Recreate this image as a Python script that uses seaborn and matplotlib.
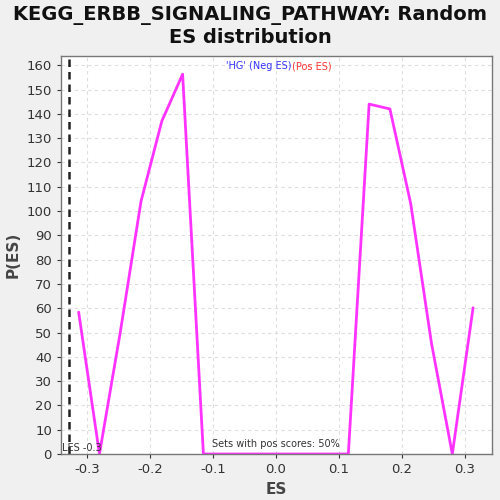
import numpy as np
import pandas as pd
import matplotlib
matplotlib.use("Agg")
import matplotlib.pyplot as plt
import seaborn as sns

# ES bins and density values
es_values = [-0.313, -0.280, -0.247, -0.214, -0.181, -0.148, -0.115, -0.082,
             -0.049, -0.016, 0.016, 0.049, 0.082, 0.115, 0.148, 0.181,
             0.214, 0.247, 0.280, 0.313]
p_es = [58.4, 0.0, 50.0, 104.0, 137.0, 156.3, 0.0, 0.0,
        0.0, 0.0, 0.0, 0.0, 0.0, 0.0, 144.0, 142.0,
        103.0, 45.5, 0.0, 60.2]
les_value = -0.329
y_ticks = list(range(0, 161, 10))
x_ticks = [-0.3, -0.2, -0.1, 0.0, 0.1, 0.2, 0.3]

df = pd.DataFrame({"ES": es_values, "P(ES)": p_es})

sns.set_style("whitegrid")
plt.rcParams['font.family'] = ['DejaVu Sans']

fig = plt.figure(figsize=(5, 5), dpi=100, facecolor="#f0f0f0")
ax = fig.add_axes([0.122, 0.092, 0.862, 0.796])
ax.set_facecolor("white")

sns.lineplot(data=df, x="ES", y="P(ES)", ax=ax, color="#ff33ff", linewidth=2)
ax.axvline(les_value, color="#222222", linestyle=(0, (3, 2)), linewidth=1.8)

ax.set_xlim(-0.341, 0.343)
ax.set_ylim(0, 163.8)
ax.set_xticks(x_ticks)
ax.set_xticklabels([f"{t:.1f}" for t in x_ticks])
ax.set_yticks(y_ticks)
ax.tick_params(axis="both", labelsize=9.5, colors="#333333", length=3, direction="out")
ax.tick_params(axis="both", bottom=True, left=True)
ax.grid(True, color="#dddddd", linestyle=(0, (3, 3)), linewidth=0.8)
for s in ax.spines.values():
    s.set_color("#777777")
    s.set_linewidth(1)

ax.set_xlabel("ES", fontsize=11, fontweight="bold", color="#444444")
ax.set_ylabel("P(ES)", fontsize=11, fontweight="bold", color="#444444")
fig.suptitle("KEGG_ERBB_SIGNALING_PATHWAY: Random\nES distribution",
             fontsize=14, fontweight="bold", y=0.99, color="#111111")

ax.text(0.0, 2, "Sets with pos scores: 50%", ha="center", va="bottom",
        fontsize=7, color="#333333")
ax.text(-0.339, 0.5, "LES -0.3", ha="left", va="bottom", fontsize=7, color="#333333")
ax.text(-0.079, 159.5, "'HG' (Neg ES)", ha="left", va="center", fontsize=7, color="#3333ff")
ax.text(0.026, 159.5, "(Pos ES)", ha="left", va="center", fontsize=7, color="#ff3333")

fig.savefig("out.png", dpi=100, facecolor=fig.get_facecolor())
